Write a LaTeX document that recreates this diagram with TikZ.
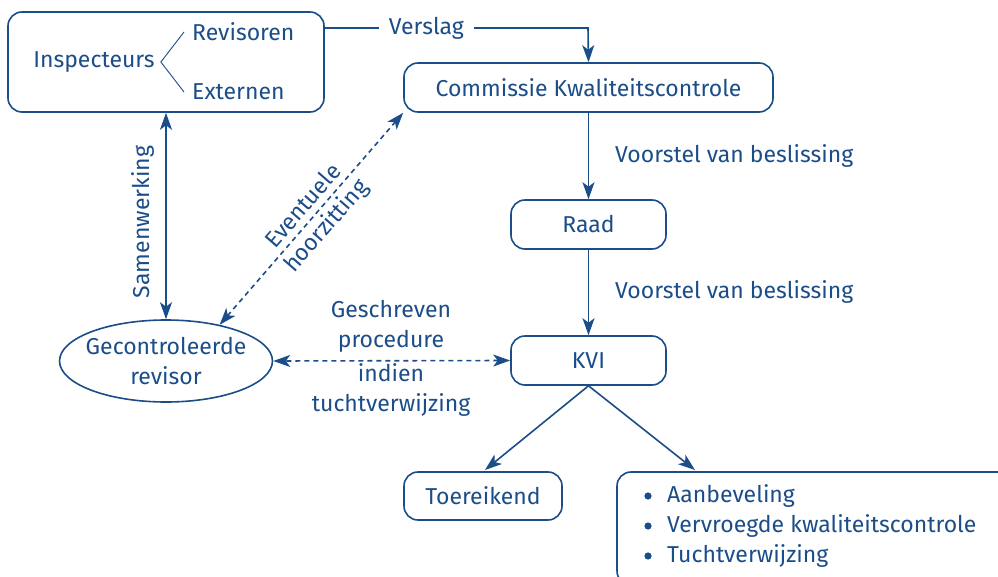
\documentclass[tikz,border=0pt]{standalone}
\usepackage{fontspec}
\setmainfont{Fira Sans}
\usetikzlibrary{arrows.meta,shapes.geometric}
\definecolor{db}{HTML}{1B4D89}
\begin{document}
\begin{tikzpicture}[x=1pt,y=-1pt,
  >={Stealth[length=17pt,width=12pt,inset=4.5pt]},
  every node/.style={text=db, font=\fontsize{23}{30}\selectfont, inner sep=0pt},
  box/.style={draw=db, line width=1.6pt, rounded corners=14pt, align=center},
  conn/.style={draw=db, line width=1.6pt, ->},
  dconn/.style={draw=db, line width=1.6pt, dash pattern=on 5pt off 4pt, <->},
  lbl/.style={align=center}]
\useasboundingbox (0,0) rectangle (998,577);
\clip (0,0) rectangle (998,577);
% boxes
\node[box, minimum width=316pt, minimum height=100pt] (insp) at (166,62) {};
\node (ins) at (94,62) {Inspecteurs};
\node[anchor=west] (rev) at (192,32) {Revisoren};
\node[anchor=west] (ext) at (192,92) {Externen};
\draw[db, line width=0.9pt] ([xshift=-8pt]rev.west) -- ([xshift=6pt]ins.east) -- ([xshift=-8pt]ext.west);
\node[box, minimum width=369pt, minimum height=49pt] (comm) at (588.5,87.5) {Commissie Kwaliteitscontrole};
\node[box, minimum width=155pt, minimum height=49pt] (raad) at (588.5,224.5) {Raad};
\node[box, minimum width=155pt, minimum height=49pt] (kvi) at (588.5,360.5) {KVI};
\node[box, minimum width=158pt, minimum height=48pt] (toe) at (483,496) {Toereikend};
\node[box, minimum width=403pt, minimum height=113pt] (res) at (818.5,528.5) {};
\node[draw=db, line width=1.6pt, ellipse, inner sep=-5pt, minimum width=211pt, minimum height=82pt, align=center] (gec) at (166,361) {Gecontroleerde\\revisor};
% bullets
\foreach \t/\yy [count=\i] in {Aanbeveling/496, Vervroegde kwaliteitscontrole/526, Tuchtverwijzing/556}{
  \fill[db] (648,\yy) circle (3.6pt);
  \node[anchor=west] (b\i) at (667,\yy) {\t};
}
% connectors
\coordinate (v1) at (588,28);
\draw[conn] ([yshift=34pt]insp.east) -- node[pos=0.386, fill=white, inner xsep=10pt, inner ysep=2pt] (vers) {Verslag} (v1) -- (comm.north);
\draw[conn] (comm.south) -- (raad.north);
\node[anchor=west] (vb1) at (615,156) {Voorstel van beslissing};
\draw[conn] (raad.south) -- (kvi.north);
\node[anchor=west] (vb2) at (615,292) {Voorstel van beslissing};
\coordinate (t1) at (485,470);
\coordinate (t2) at (695,470);
\draw[conn] (kvi.south) -- (t1);
\draw[conn] (kvi.south) -- (t2);
\draw[conn, <->] (insp.south) -- (gec.north);
\node[rotate=90] (sam) at (143,222) {Samenwerking};
\draw[dconn] (gec.34) -- (comm.south west);
\node[lbl, rotate=49] (hoor) at (315.5,217) {Eventuele\\hoorzitting};
\draw[dconn] (kvi.west) -- (gec.east);
\node[lbl] (gp) at (391,326) {Geschreven\\procedure};
\node[lbl] (it) at (391,390) {indien\\tuchtverwijzing};
\end{tikzpicture}
\end{document}
